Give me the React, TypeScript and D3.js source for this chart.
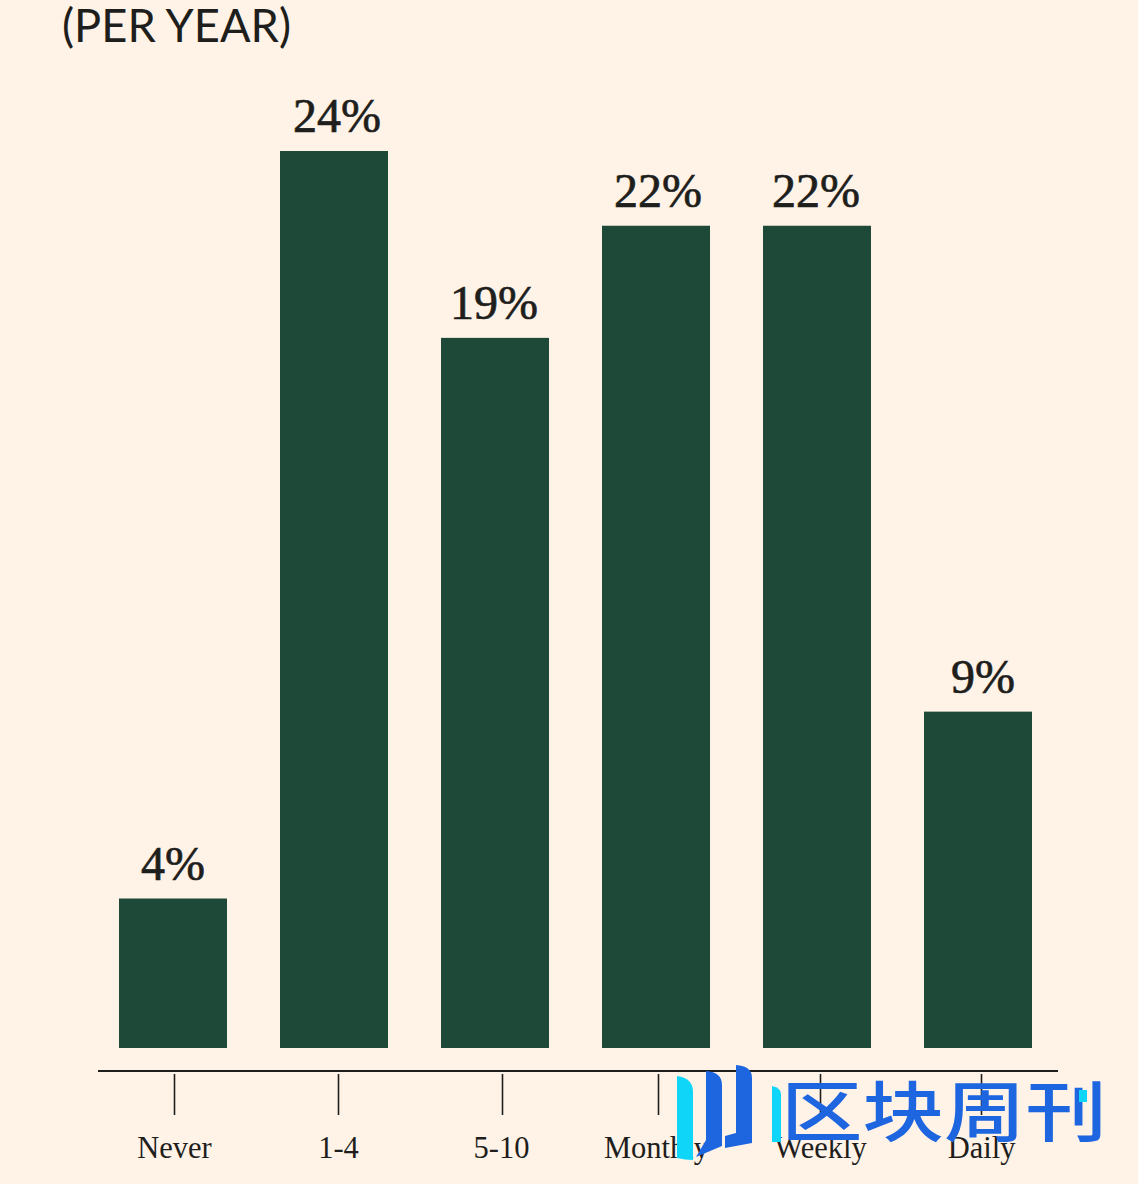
import React, { useRef, useEffect } from "react";
import * as d3 from "d3";

const categories = ["Never", "1-4", "5-10", "Monthly", "Weekly", "Daily"];
const shares = [4, 24, 19, 22, 22, 9];
const title = "(PER YEAR)";
const watermark = "区块周刊";

const width = 1138;
const height = 1184;
const baseline = 1048;
const axisY = 1071;
const tickStart = 1074;
const tickLength = 41;

// the axis ticks and the value labels are not quite centred on the bars in the original
const tickPositions = [174, 338, 502, 658, 820, 981];
const labelNudge = [0, 3, -1, 2, -1, 5];

const bg = "#FFF2E7";
const barColor = "#1E4939";
const ink = "#1E1E1C";
const serif = '"Liberation Serif", serif';

const App: React.FC = () => {
  const ref = useRef<SVGSVGElement>(null);

  useEffect(() => {
    if (!ref.current) return;
    document.body.style.margin = "0";
    const svg = d3.select(ref.current);
    svg.selectAll("*").remove();

    svg.append("rect").attr("width", width).attr("height", height).attr("fill", bg);

    const x = d3
      .scaleBand<string>()
      .domain(categories)
      .range([119, 1032])
      .paddingInner(53 / 161)
      .paddingOuter(0);
    const y = d3.scaleLinear().domain([0, 24]).range([baseline, 151]);
    const tickScale = d3.scaleOrdinal<string, number>().domain(categories).range(tickPositions);

    svg
      .append("text")
      .attr("x", 62)
      .attr("y", 42)
      .attr("font-family", "Lato, sans-serif")
      .attr("font-size", 46)
      .attr("textLength", 229)
      .attr("lengthAdjust", "spacingAndGlyphs")
      .attr("fill", ink)
      .text(title);

    svg
      .append("g")
      .selectAll("rect")
      .data(shares)
      .join("rect")
      .attr("x", (_, i) => x(categories[i]) as number)
      .attr("y", (d) => y(d))
      .attr("width", x.bandwidth())
      .attr("height", (d) => baseline - y(d))
      .attr("fill", barColor);

    svg
      .append("g")
      .selectAll("text")
      .data(shares)
      .join("text")
      .attr("x", (_, i) => (x(categories[i]) as number) + x.bandwidth() / 2 + labelNudge[i])
      .attr("y", (d) => y(d) - 19)
      .attr("text-anchor", "middle")
      .attr("font-family", serif)
      .attr("font-size", 48)
      .attr("fill", ink)
      .attr("stroke", ink)
      .attr("stroke-width", 0.7)
      .text((d) => `${d}%`);

    // axis line runs past the ticks, so it is drawn on its own
    svg
      .append("line")
      .attr("x1", 98)
      .attr("x2", 1058)
      .attr("y1", axisY)
      .attr("y2", axisY)
      .attr("stroke", ink)
      .attr("stroke-width", 2);

    const axis = svg
      .append("g")
      .attr("transform", `translate(0,${tickStart})`)
      .call(d3.axisBottom(tickScale as any).tickSize(tickLength).tickPadding(21));
    axis.select(".domain").remove();
    axis.selectAll(".tick line").attr("stroke", ink).attr("stroke-width", 1.6);
    axis
      .selectAll(".tick text")
      .attr("font-family", serif)
      .attr("font-size", 30.5)
      .attr("dx", (_, i) => (i === 3 ? -2 : i === 2 ? -1 : 0))
      .attr("fill", ink);

    // watermark on top of the chart
    const mark = svg.append("g");
    mark
      .append("path")
      .attr("d", "M677 1076 Q693 1078 693 1092 L693 1160 Q685 1160 677 1158 Z")
      .attr("fill", "#0FD6F8");
    mark
      .append("path")
      .attr("d", "M706 1071 Q722 1072 722 1085 L722 1146 L696 1157 L706 1140 Z")
      .attr("fill", "#1E66E0");
    mark
      .append("path")
      .attr("d", "M736 1065 Q752 1066 752 1078 L752 1143 L725 1148 L725 1136 L736 1133 Z")
      .attr("fill", "#1E66E0");
    mark
      .append("path")
      .attr("d", "M772 1086 Q781 1088 781 1094 L781 1142 L772 1142 Z")
      .attr("fill", "#0FD6F8");
    mark
      .append("text")
      .attr("x", 781)
      .attr("y", 1135.5)
      .attr("font-family", '"Noto Sans CJK SC", sans-serif')
      .attr("font-size", 66)
      .attr("font-weight", 500)
      .attr("textLength", 326)
      .attr("lengthAdjust", "spacingAndGlyphs")
      .attr("fill", "#1E66E0")
      .text(watermark);
    mark
      .append("rect")
      .attr("x", 1079)
      .attr("y", 1090)
      .attr("width", 8)
      .attr("height", 12)
      .attr("fill", "#0FD6F8");
  }, []);

  return <svg ref={ref} width={width} height={height} style={{ display: "block" }}></svg>;
};

export default App;
